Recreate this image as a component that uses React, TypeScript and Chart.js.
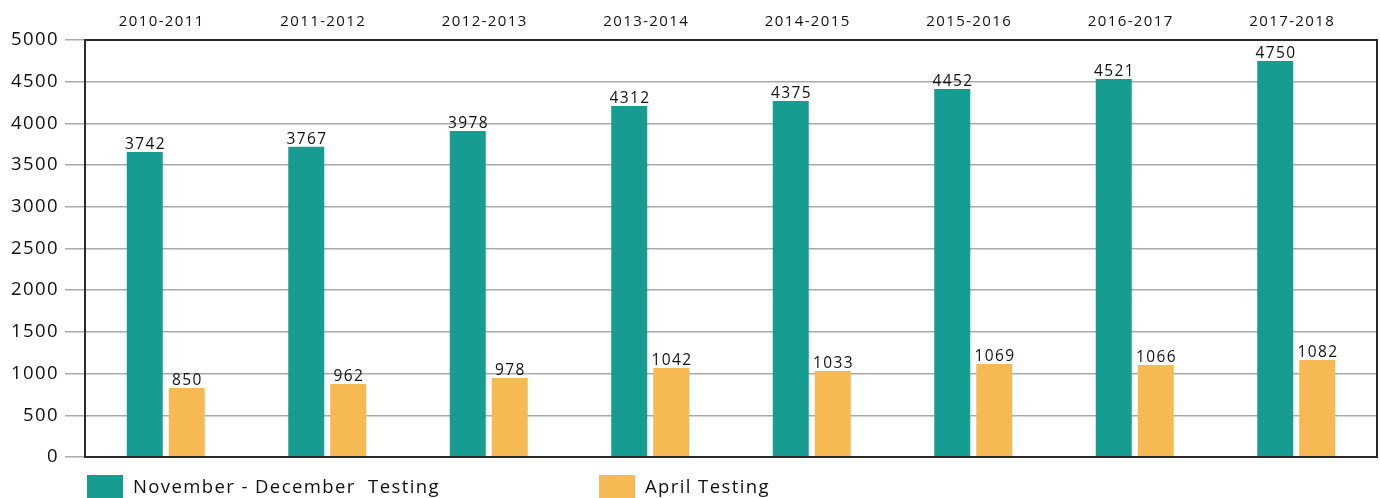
import React, { useEffect, useRef } from 'react';
import Chart from 'chart.js/auto';

const seasons = ['2010-2011', '2011-2012', '2012-2013', '2013-2014', '2014-2015', '2015-2016', '2016-2017', '2017-2018'];
const novDecValues = [3657, 3721, 3909, 4209, 4269, 4412, 4532, 4748];
const novDecLabels = ['3742', '3767', '3978', '4312', '4375', '4452', '4521', '4750'];
const aprilValues = [827, 875, 947, 1067, 1031, 1115, 1103, 1163];
const aprilLabels = ['850', '962', '978', '1042', '1033', '1069', '1066', '1082'];
const seriesNames = ['November - December  Testing', 'April Testing'];
const yMin = 0;
const yMax = 5000;
const yStep = 500;

const TEAL = '#169c90';
const ORANGE = '#f6b953';
const FONT = '"Open Sans", "DejaVu Sans", sans-serif';
const TEXT = '#111111';

const valueLabels = [novDecLabels, aprilLabels];

const spacingPlugin = {
  id: 'spacing',
  beforeDraw(chart: any) {
    chart.ctx.letterSpacing = '1.4px';
  },
};

const labelPlugin = {
  id: 'valueLabels',
  afterDatasetsDraw(chart: any) {
    const ctx = chart.ctx;
    ctx.save();
    ctx.font = `15.5px ${FONT}`;
    ctx.fillStyle = TEXT;
    ctx.textAlign = 'center';
    ctx.textBaseline = 'alphabetic';
    chart.data.datasets.forEach((ds: any, di: number) => {
      const meta = chart.getDatasetMeta(di);
      meta.data.forEach((bar: any, i: number) => {
        ctx.fillText(valueLabels[di][i], bar.x + 0.7, bar.y - 3);
      });
    });
    ctx.restore();
  },
};

const framePlugin = {
  id: 'frame',
  afterDraw(chart: any) {
    const { ctx, chartArea } = chart;
    const { left, right, top, bottom } = chartArea;
    ctx.save();
    ctx.strokeStyle = '#2b2b2b';
    ctx.lineWidth = 2;
    ctx.beginPath();
    ctx.moveTo(left, top);
    ctx.lineTo(right, top);
    ctx.lineTo(right, bottom);
    ctx.lineTo(left, bottom);
    ctx.closePath();
    ctx.stroke();

    // legend
    ctx.font = `18.5px ${FONT}`;
    ctx.textBaseline = 'middle';
    ctx.textAlign = 'left';
    const legendX = [87, 599];
    chart.data.datasets.forEach((ds: any, di: number) => {
      ctx.fillStyle = ds.backgroundColor;
      ctx.fillRect(legendX[di], 475, 36, 24);
      ctx.fillStyle = TEXT;
      ctx.fillText(ds.label, legendX[di] + 46, 488);
    });
    ctx.restore();
  },
};

export default function App() {
  const canvasRef = useRef<HTMLCanvasElement>(null);

  useEffect(() => {
    const chart = new Chart(canvasRef.current as HTMLCanvasElement, {
      type: 'bar',
      data: {
        labels: seasons,
        datasets: [
          { label: seriesNames[0], data: novDecValues, backgroundColor: TEAL },
          { label: seriesNames[1], data: aprilValues, backgroundColor: ORANGE },
        ],
      },
      options: {
        animation: false,
        responsive: false,
        maintainAspectRatio: false,
        layout: { padding: { left: 0, top: 0, right: 3, bottom: 41 } },
        datasets: { bar: { categoryPercentage: 0.52, barPercentage: 0.857 } },
        plugins: { legend: { display: false }, tooltip: { enabled: false } },
        scales: {
          x: {
            position: 'top',
            grid: { display: false, drawTicks: false },
            border: { display: false },
            ticks: {
              font: { family: FONT, size: 15 },
              color: TEXT,
              padding: 9,
              labelOffset: -4,
              maxRotation: 0,
            },
            afterFit(scale: any) {
              scale.height = 40;
            },
          },
          y: {
            min: yMin,
            max: yMax,
            grid: { color: '#a9a9a9', lineWidth: 1.5, tickLength: 20, drawTicks: true },
            border: { display: false },
            ticks: {
              stepSize: yStep,
              font: { family: FONT, size: 18.5 },
              color: TEXT,
              padding: 6,
              callback: (v: any) => String(v),
            },
            afterFit(scale: any) {
              scale.width = 85;
            },
          },
        },
      },
      plugins: [spacingPlugin, labelPlugin, framePlugin],
    } as any);
    return () => chart.destroy();
  }, []);

  return (
    <div style={{ position: 'fixed', left: 0, top: 0, width: 1380, height: 498, background: '#fff' }}>
      <canvas ref={canvasRef} width={1380} height={498} style={{ width: 1380, height: 498 }} />
    </div>
  );
}
